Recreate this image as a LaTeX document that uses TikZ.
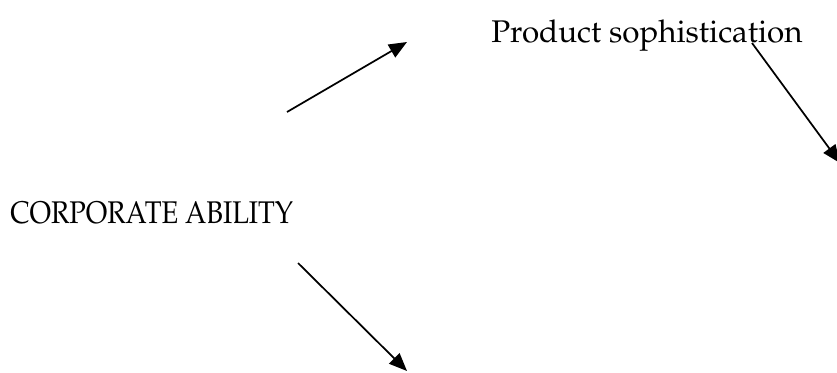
\documentclass[tikz,border=0pt]{standalone}
\usepackage[T1]{fontenc}
\usepackage{mathpazo}
\usetikzlibrary{arrows.meta}
\begin{document}
\begin{tikzpicture}[x=0.75pt,y=-0.75pt,
  lbl/.style={anchor=base west,inner sep=0pt,font=\fontsize{23.5}{28}\selectfont},
  arr/.style={line width=1.3pt,-{Triangle[length=13.5pt,width=11pt]}}]
\useasboundingbox (0,0) rectangle (837,372);
\node[lbl] (prod) at (491,42) {Product sophistication};
\node[lbl] (corp) at (10,223) {\scalebox{0.872}[1]{CORPORATE ABILITY}};
\coordinate (a1s) at (287,112);
\coordinate (a1e) at (407,42);
\coordinate (a2s) at (752,43);
\coordinate (a2e) at (840,163);
\coordinate (a3s) at (298,263);
\coordinate (a3e) at (407,371);
\draw[arr] (a1s) -- (a1e);
\draw[arr] (a2s) -- (a2e);
\draw[arr] (a3s) -- (a3e);
\end{tikzpicture}
\end{document}
